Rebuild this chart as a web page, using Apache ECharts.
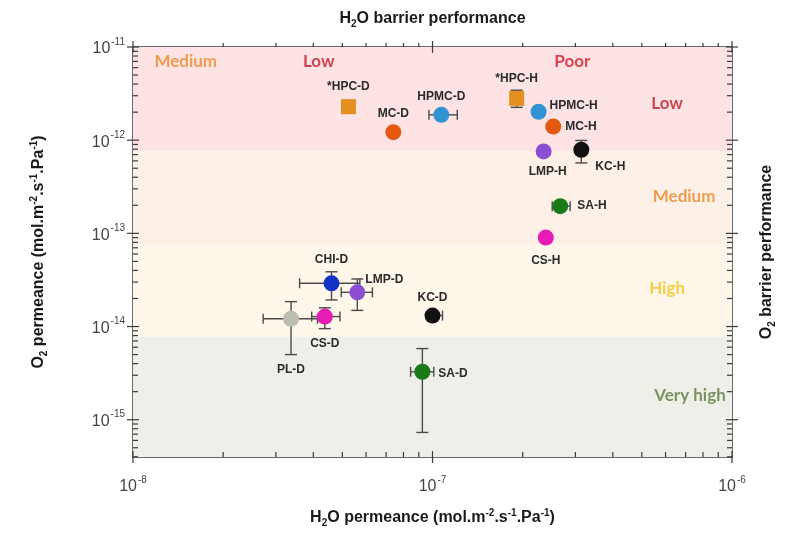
<!DOCTYPE html>
<html><head><meta charset="utf-8">
<script src="https://cdn.jsdelivr.net/npm/echarts@6/dist/echarts.min.js"></script>
<style>html,body{margin:0;padding:0;background:#fff}#c{width:785px;height:533px}</style>
</head><body><div id="c"></div>
<script>
// ---------- data ----------
const names  = ['*HPC-D','MC-D','HPMC-D','*HPC-H','HPMC-H','MC-H','LMP-H','KC-H','SA-H','CS-H','CHI-D','LMP-D','CS-D','PL-D','KC-D','SA-D'];
const h2o    = [5.24e-8, 7.4e-8, 1.07e-7, 1.91e-7, 2.26e-7, 2.53e-7, 2.35e-7, 3.14e-7, 2.67e-7, 2.39e-7, 4.6e-8, 5.61e-8, 4.37e-8, 3.37e-8, 1.0e-7, 9.25e-8];
const o2     = [2.29e-12, 1.22e-12, 1.87e-12, 2.81e-12, 2.02e-12, 1.40e-12, 7.58e-13, 7.9e-13, 1.96e-13, 9.0e-14, 2.91e-14, 2.33e-14, 1.28e-14, 1.21e-14, 1.31e-14, 3.27e-15];
// error bounds (0 = no error bar)
const h2oLow  = [0, 0, 9.73e-8, 0, 0, 0, 0, 0, 2.51e-7, 0, 3.6e-8, 4.96e-8, 3.95e-8, 2.72e-8, 9.6e-8, 8.45e-8];
const h2oHigh = [0, 0, 1.21e-7, 0, 0, 0, 0, 0, 2.88e-7, 0, 5.72e-8, 6.3e-8, 4.91e-8, 4.13e-8, 1.08e-7, 1.01e-7];
const o2Low   = [2.0e-12, 0, 0, 2.25e-12, 0, 0, 0, 5.7e-13, 0, 0, 1.93e-14, 1.49e-14, 9.5e-15, 5.0e-15, 0, 7.3e-16];
const o2High  = [2.6e-12, 0, 0, 3.44e-12, 0, 0, 0, 9.93e-13, 0, 0, 3.87e-14, 3.24e-14, 1.59e-14, 1.85e-14, 0, 5.8e-15];

// performance bands (O2) and H2O boundaries
const bandBounds = [1e-11, 7.6e-13, 7.6e-14, 7.8e-15, 3.98e-16];
const h2oBounds  = [2.36e-8, 7.76e-8];

// zone labels
const zoneNames = ['Medium', 'Low', 'Poor', 'Low', 'Medium', 'High', 'Very high'];
const zoneX     = [1.5e-8, 4.17e-8, 2.93e-7, 6.07e-7, 6.92e-7, 6.07e-7, 7.24e-7];
const zoneY     = [7.03e-12, 7.03e-12, 7.03e-12, 2.45e-12, 2.49e-13, 2.53e-14, 1.82e-15];

// axis ticks
const xMajorTicks = [1e-8, 1e-7, 1e-6];
const xMinorTicks = [2e-8, 3e-8, 4e-8, 5e-8, 6e-8, 7e-8, 8e-8, 9e-8, 2e-7, 3e-7, 4e-7, 5e-7, 6e-7, 7e-7, 8e-7, 9e-7];
const yMajorTicks = [1e-15, 1e-14, 1e-13, 1e-12, 1e-11];
const yMinorTicks = [4e-16, 5e-16, 6e-16, 7e-16, 8e-16, 9e-16,
  2e-15, 3e-15, 4e-15, 5e-15, 6e-15, 7e-15, 8e-15, 9e-15,
  2e-14, 3e-14, 4e-14, 5e-14, 6e-14, 7e-14, 8e-14, 9e-14,
  2e-13, 3e-13, 4e-13, 5e-13, 6e-13, 7e-13, 8e-13, 9e-13,
  2e-12, 3e-12, 4e-12, 5e-12, 6e-12, 7e-12, 8e-12, 9e-12];

const xMin = 1e-8, xMax = 1e-6, yMin = 3.98e-16, yMax = 1e-11;

// ---------- styles ----------
const FONT = 'Liberation Sans, Arial, sans-serif';
const colorOf = {HPC:'#e3901e', MC:'#e4580f', HPMC:'#3193d3', LMP:'#8c4fd4', KC:'#111111', SA:'#197a19', CS:'#e51cb6', CHI:'#1431c6', PL:'#bcbcb0'};
const labelCfg = {
  '*HPC-D': {position:'top', distance:6},
  'MC-D':   {position:'top', distance:4},
  'HPMC-D': {position:'top', distance:4},
  '*HPC-H': {position:'top', distance:6},
  'HPMC-H': {position:'right', distance:3, offset:[0,-6]},
  'MC-H':   {position:'right', distance:4},
  'LMP-H':  {position:'bottom', distance:6, offset:[4,0]},
  'KC-H':   {position:'right', distance:6, offset:[0,17]},
  'SA-H':   {position:'right', distance:9},
  'CS-H':   {position:'bottom', distance:9},
  'CHI-D':  {position:'top', distance:10},
  'LMP-D':  {position:'right', distance:0, offset:[0,-13]},
  'CS-D':   {position:'bottom', distance:13},
  'PL-D':   {position:'bottom', distance:37},
  'KC-D':   {position:'top', distance:4},
  'SA-D':   {position:'right', distance:8, offset:[0,2]}
};
const zoneColors = ['#e8892b', '#c01b2b', '#d01c2c', '#c01b2b', '#e8892b', '#f3c21a', '#5b7b3b'];
const bandColors = ['#fde3e4', '#fdf0e7', '#fef7ea', '#efefea'];

function fam(n) { return n.replace('*','').split('-')[0]; }

const pointData = names.map((n, i) => {
  const f = fam(n);
  const sq = f === 'HPC';
  return {
    name: n,
    value: [h2o[i], o2[i]],
    symbol: sq ? 'rect' : 'circle',
    symbolSize: sq ? 15 : 16,
    itemStyle: {color: colorOf[f], opacity: 1},
    label: Object.assign({show: true, formatter: '{b}', fontFamily: FONT, fontWeight: 'bold', fontSize: 12, color: '#2a2a2a'}, labelCfg[n])
  };
});

const errData = names.map((n, i) => [h2o[i], o2[i], h2oLow[i], h2oHigh[i], o2Low[i], o2High[i]])
  .filter(d => d[2] > 0 || d[4] > 0);

const tickData = []
  .concat(xMajorTicks.map(v => [v, yMin, 1]))
  .concat(xMinorTicks.map(v => [v, yMin, 0]))
  .concat(yMajorTicks.map(v => [xMin, v, 3]))
  .concat(yMinorTicks.map(v => [xMin, v, 2]));

const zoneData = zoneNames.map((n, i) => ({
  name: n, value: [zoneX[i], zoneY[i]],
  label: {color: zoneColors[i]}
}));

const bandAreas = bandColors.map((c, i) => [
  {xAxis: xMin, yAxis: bandBounds[i + 1], itemStyle: {color: c}},
  {xAxis: xMax, yAxis: bandBounds[i]}
]);

// ---------- label helpers ----------
const tickRich = {
  b: {fontSize: 16, fontFamily: FONT, color: '#444', lineHeight: 20, verticalAlign: 'bottom'},
  s: {fontSize: 10, fontFamily: FONT, color: '#444', lineHeight: 12, verticalAlign: 'top', padding: [0, 0, 0, 1]}
};
function powLabel(v) {
  const l = Math.log10(v), e = Math.round(l);
  if (Math.abs(l - e) > 1e-6) return '';
  return '{b|10}{s|' + e + '}';
}
const nameRich = {
  t:   {fontSize: 16, fontFamily: FONT, fontWeight: 'bold', color: '#1a1a1a', lineHeight: 20},
  sub: {fontSize: 10, fontFamily: FONT, fontWeight: 'bold', color: '#1a1a1a', lineHeight: 10, verticalAlign: 'bottom'},
  sup: {fontSize: 10, fontFamily: FONT, fontWeight: 'bold', color: '#1a1a1a', lineHeight: 10, verticalAlign: 'top'}
};
const unitName = '{t|O permeance (mol.m}{sup|-2}{t|.s}{sup|-1}{t|.Pa}{sup|-1}{t|)}';

const axisLineStyle = {color: '#3a3a3a', width: 1.5};

const option = {
  animation: false,
  backgroundColor: '#ffffff',
  grid: {left: 133, right: 52, top: 47, bottom: 74},
  xAxis: [
    {type: 'log', logBase: 10, min: xMin, max: xMax, position: 'bottom',
     axisLine: {show: true, lineStyle: axisLineStyle}, axisTick: {show: false}, splitLine: {show: false},
     axisLabel: {formatter: powLabel, rich: tickRich, margin: 18, showMinLabel: true, showMaxLabel: true},
     name: '{t|H}{sub|2}' + unitName, nameLocation: 'middle', nameGap: 51, nameTextStyle: {rich: nameRich}},
    {type: 'log', logBase: 10, min: xMin, max: xMax, position: 'top',
     axisLine: {show: true, lineStyle: axisLineStyle}, axisTick: {show: false}, splitLine: {show: false},
     axisLabel: {show: false},
     name: '{t|H}{sub|2}{t|O barrier performance}', nameLocation: 'middle', nameGap: 18, nameTextStyle: {rich: nameRich}}
  ],
  yAxis: [
    {type: 'log', logBase: 10, min: yMin, max: yMax, position: 'left',
     axisLine: {show: true, lineStyle: axisLineStyle}, axisTick: {show: false}, splitLine: {show: false},
     axisLabel: {formatter: powLabel, rich: tickRich, margin: 8},
     name: '{t|O}{sub|2}{t| permeance (mol.m}{sup|-2}{t|.s}{sup|-1}{t|.Pa}{sup|-1}{t|)}', nameLocation: 'middle', nameGap: 84, nameRotate: 90,
     nameTextStyle: {rich: nameRich}},
    {type: 'log', logBase: 10, min: yMin, max: yMax, position: 'right',
     axisLine: {show: true, lineStyle: axisLineStyle}, axisTick: {show: false}, splitLine: {show: false},
     axisLabel: {show: false},
     name: '{t|O}{sub|2}{t| barrier performance}', nameLocation: 'middle', nameGap: 25, nameRotate: 90,
     nameTextStyle: {rich: nameRich}}
  ],
  series: [
    {
      type: 'scatter', name: 'zones', data: zoneData, symbolSize: 1,
      itemStyle: {color: 'rgba(0,0,0,0)'}, silent: true, z: 3,
      label: {show: true, position: 'inside', formatter: '{b}', fontFamily: 'Lato, Liberation Sans, sans-serif', fontWeight: 'bold', fontSize: 17},
      markArea: {silent: true, data: bandAreas},
      markLine: {
        silent: true, symbol: 'none', label: {show: false},
        data: [
          {xAxis: h2oBounds[0], lineStyle: {color: '#c9c0b8', width: 1, type: 'solid'}},
          {xAxis: h2oBounds[1], lineStyle: {color: '#ece2dc', width: 1, type: 'solid'}}
        ]
      }
    },
    {
      type: 'custom', name: 'errors', data: errData, z: 4, silent: true, clip: false,
      encode: {x: 0, y: 1},
      renderItem: function (params, api) {
        const x = api.value(0), y = api.value(1);
        const xl = api.value(2), xh = api.value(3), yl = api.value(4), yh = api.value(5);
        const children = [];
        const st = {stroke: '#4a4a4a', lineWidth: 1.4};
        if (xl > 0) {
          const a = api.coord([xl, y]), b = api.coord([xh, y]);
          children.push({type: 'line', shape: {x1: a[0], y1: a[1], x2: b[0], y2: b[1]}, style: st});
          children.push({type: 'line', shape: {x1: a[0], y1: a[1] - 5, x2: a[0], y2: a[1] + 5}, style: st});
          children.push({type: 'line', shape: {x1: b[0], y1: b[1] - 5, x2: b[0], y2: b[1] + 5}, style: st});
        }
        if (yl > 0) {
          const a = api.coord([x, yl]), b = api.coord([x, yh]);
          children.push({type: 'line', shape: {x1: a[0], y1: a[1], x2: b[0], y2: b[1]}, style: st});
          children.push({type: 'line', shape: {x1: a[0] - 6, y1: a[1], x2: a[0] + 6, y2: a[1]}, style: st});
          children.push({type: 'line', shape: {x1: b[0] - 6, y1: b[1], x2: b[0] + 6, y2: b[1]}, style: st});
        }
        return {type: 'group', children: children};
      }
    },
    {
      type: 'scatter', name: 'films', data: pointData, z: 5
    },
    {
      type: 'custom', name: 'ticks', data: tickData, z: 6, silent: true, clip: false,
      encode: {x: 0, y: 1},
      renderItem: function (params, api) {
        const cs = params.coordSys;
        const L = cs.x, T = cs.y, R = cs.x + cs.width, B = cs.y + cs.height;
        const kind = api.value(2);
        const st = {stroke: '#3a3a3a', lineWidth: 1.2};
        const ch = [];
        if (kind < 2) {
          const px = api.coord([api.value(0), api.value(1)])[0];
          if (kind === 1) {
            ch.push({type: 'line', shape: {x1: px, y1: B - 6, x2: px, y2: B + 6}, style: st});
            ch.push({type: 'line', shape: {x1: px, y1: T - 6, x2: px, y2: T + 6}, style: st});
          } else {
            ch.push({type: 'line', shape: {x1: px, y1: B, x2: px, y2: B - 5}, style: st});
            ch.push({type: 'line', shape: {x1: px, y1: T, x2: px, y2: T - 4}, style: st});
          }
        } else {
          const py = api.coord([api.value(0), api.value(1)])[1];
          if (kind === 3) {
            ch.push({type: 'line', shape: {x1: L - 6, y1: py, x2: L + 6, y2: py}, style: st});
            ch.push({type: 'line', shape: {x1: R - 6, y1: py, x2: R + 6, y2: py}, style: st});
          } else {
            ch.push({type: 'line', shape: {x1: L, y1: py, x2: L + 5, y2: py}, style: st});
            ch.push({type: 'line', shape: {x1: R, y1: py, x2: R - 5, y2: py}, style: st});
          }
        }
        return {type: 'group', children: ch};
      }
    }
  ]
};

const chart = echarts.init(document.getElementById('c'), null, {renderer: 'canvas'});
chart.setOption(option);
</script>
</body></html>
